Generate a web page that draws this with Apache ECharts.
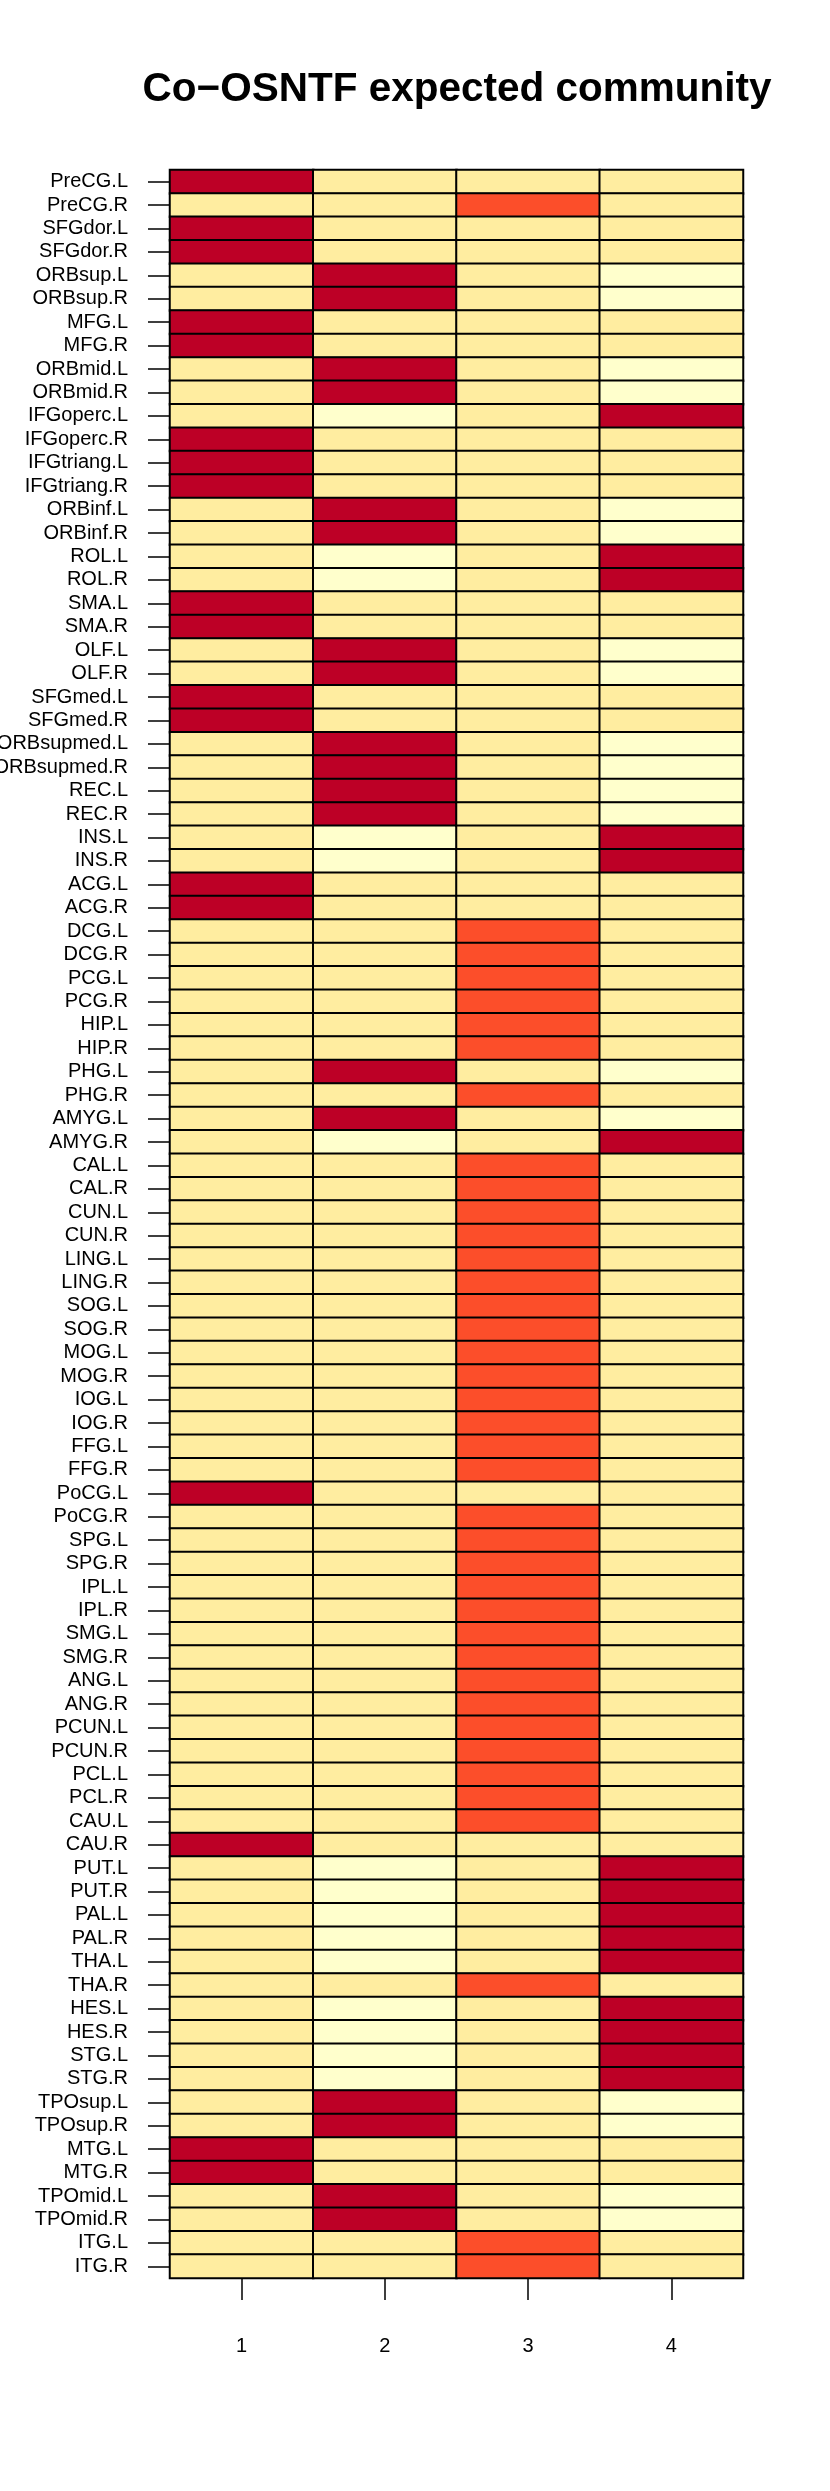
<!DOCTYPE html>
<html>
<head>
<meta charset="utf-8">
<script src="https://cdn.jsdelivr.net/npm/echarts@6/dist/echarts.min.js"></script>
<style>
  html, body { margin: 0; padding: 0; background: #fff; }
  #chart { width: 830px; height: 2491px; }
</style>
</head>
<body>
<div id="chart"></div>
<script>
  // AAL regions, top to bottom
  var regions = [
    "PreCG.L", "PreCG.R", "SFGdor.L", "SFGdor.R", "ORBsup.L", "ORBsup.R", "MFG.L", "MFG.R",
    "ORBmid.L", "ORBmid.R", "IFGoperc.L", "IFGoperc.R", "IFGtriang.L", "IFGtriang.R",
    "ORBinf.L", "ORBinf.R", "ROL.L", "ROL.R", "SMA.L", "SMA.R", "OLF.L", "OLF.R",
    "SFGmed.L", "SFGmed.R", "ORBsupmed.L", "ORBsupmed.R", "REC.L", "REC.R", "INS.L", "INS.R",
    "ACG.L", "ACG.R", "DCG.L", "DCG.R", "PCG.L", "PCG.R", "HIP.L", "HIP.R", "PHG.L", "PHG.R",
    "AMYG.L", "AMYG.R", "CAL.L", "CAL.R", "CUN.L", "CUN.R", "LING.L", "LING.R", "SOG.L", "SOG.R",
    "MOG.L", "MOG.R", "IOG.L", "IOG.R", "FFG.L", "FFG.R", "PoCG.L", "PoCG.R", "SPG.L", "SPG.R",
    "IPL.L", "IPL.R", "SMG.L", "SMG.R", "ANG.L", "ANG.R", "PCUN.L", "PCUN.R", "PCL.L", "PCL.R",
    "CAU.L", "CAU.R", "PUT.L", "PUT.R", "PAL.L", "PAL.R", "THA.L", "THA.R", "HES.L", "HES.R",
    "STG.L", "STG.R", "TPOsup.L", "TPOsup.R", "MTG.L", "MTG.R", "TPOmid.L", "TPOmid.R", "ITG.L", "ITG.R"
  ];
  var communities = ["1", "2", "3", "4"];

  // colour level of each cell (0 = palest, 3 = darkest), one array per community
  var community1 = [
    3,1,3,3,1,1,3,3,1,1, 1,3,3,3,1,1,1,1,3,3, 1,1,3,3,1,1,1,1,1,1,
    3,3,1,1,1,1,1,1,1,1, 1,1,1,1,1,1,1,1,1,1, 1,1,1,1,1,1,3,1,1,1,
    1,1,1,1,1,1,1,1,1,1, 1,3,1,1,1,1,1,1,1,1, 1,1,1,1,3,3,1,1,1,1
  ];
  var community2 = [
    1,1,1,1,3,3,1,1,3,3, 0,1,1,1,3,3,0,0,1,1, 3,3,1,1,3,3,3,3,0,0,
    1,1,1,1,1,1,1,1,3,1, 3,0,1,1,1,1,1,1,1,1, 1,1,1,1,1,1,1,1,1,1,
    1,1,1,1,1,1,1,1,1,1, 1,1,0,0,0,0,0,1,0,0, 0,0,3,3,1,1,3,3,1,1
  ];
  var community3 = [
    1,2,1,1,1,1,1,1,1,1, 1,1,1,1,1,1,1,1,1,1, 1,1,1,1,1,1,1,1,1,1,
    1,1,2,2,2,2,2,2,1,2, 1,1,2,2,2,2,2,2,2,2, 2,2,2,2,2,2,1,2,2,2,
    2,2,2,2,2,2,2,2,2,2, 2,1,1,1,1,1,1,2,1,1, 1,1,1,1,1,1,1,1,2,2
  ];
  var community4 = [
    1,1,1,1,0,0,1,1,0,0, 3,1,1,1,0,0,3,3,1,1, 0,0,1,1,0,0,0,0,3,3,
    1,1,1,1,1,1,1,1,0,1, 0,3,1,1,1,1,1,1,1,1, 1,1,1,1,1,1,1,1,1,1,
    1,1,1,1,1,1,1,1,1,1, 1,1,3,3,3,3,3,1,3,3, 3,3,0,0,1,1,0,0,1,1
  ];

  var columns = [community1, community2, community3, community4];
  var cells = [];
  columns.forEach(function (col, x) {
    col.forEach(function (v, y) { cells.push([x, y, v]); });
  });

  var chart = echarts.init(document.getElementById("chart"));
  chart.setOption({
    animation: false,
    backgroundColor: "#fff",
    title: {
      text: "Co\u2212OSNTF expected community",
      left: 452,
      textAlign: "center",
      top: 64,
      textStyle: { fontFamily: "Liberation Sans", fontWeight: "bold", fontSize: 40.5, color: "#000" }
    },
    grid: { left: 170, right: 87, top: 170, bottom: 213, outerBoundsMode: "none" },
    xAxis: {
      type: "category",
      data: communities,
      axisLine: { show: false },
      axisTick: { show: true, alignWithLabel: true, length: 22, lineStyle: { color: "#000", width: 1.5 } },
      axisLabel: { margin: 58, fontFamily: "Liberation Sans", fontSize: 20, color: "#000" },
      splitLine: { show: false }
    },
    yAxis: {
      type: "category",
      data: regions,
      inverse: true,
      axisLine: { show: false },
      axisTick: { show: true, alignWithLabel: true, length: 22, lineStyle: { color: "#000", width: 1.5 } },
      axisLabel: { margin: 42, interval: 0, fontFamily: "Liberation Sans", fontSize: 20, color: "#000" },
      splitLine: { show: false }
    },
    visualMap: {
      type: "piecewise",
      show: false,
      dimension: 2,
      pieces: [
        { value: 0, color: "#FFFFCC" },
        { value: 1, color: "#FFEDA0" },
        { value: 2, color: "#FC4E2A" },
        { value: 3, color: "#BD0026" }
      ]
    },
    series: [{
      type: "heatmap",
      data: cells,
      itemStyle: { borderColor: "#000", borderWidth: 2 },
      emphasis: { disabled: true }
    }]
  });
</script>
</body>
</html>
